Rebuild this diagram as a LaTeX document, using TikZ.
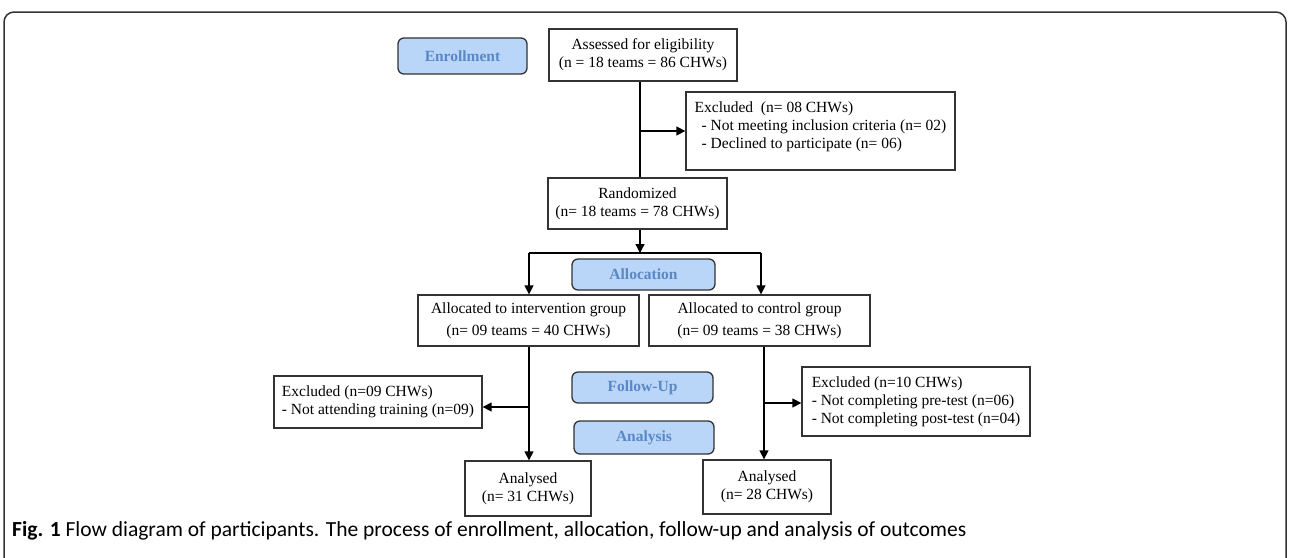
\documentclass[tikz,border=0pt]{standalone}
\usepackage{fontspec}
\setmainfont{Liberation Serif}
\newfontfamily\capfont{Carlito}
\usetikzlibrary{arrows.meta}
\definecolor{phasefill}{HTML}{B9D5F7}
\definecolor{phasetext}{HTML}{5A88C6}
\definecolor{edgegray}{HTML}{333333}
\begin{document}
\begin{tikzpicture}[x=1pt,y=-1pt,
  box/.style={draw=edgegray, line width=1.3pt, fill=white, inner sep=0pt, align=center, font=\fontsize{15.5}{18}\selectfont},
  txt/.style={inner sep=0pt, align=left, font=\fontsize{15.5}{18}\selectfont},
  phase/.style={draw=edgegray, line width=1.3pt, fill=phasefill, rounded corners=6pt, inner sep=0pt, font=\fontsize{15.5}{18}\selectfont\bfseries, text=phasetext},
  conn/.style={line width=1.3pt, draw=black},
  arr/.style={conn, -{Triangle[length=9pt,width=9pt]}}]
\useasboundingbox (0,0) rectangle (1290,557);
\draw[line width=1.5pt, draw=edgegray, rounded corners=10pt] (4,600) -- (4,12) -- (1286,12) -- (1286,600);

% phase labels
\node[phase, minimum width=129pt, minimum height=36pt] (enr) at (462.5,56) {Enrollment};
\node[phase, minimum width=143pt, minimum height=31pt] (alc) at (643.5,274.5) {Allocation};
\node[phase, minimum width=141pt, minimum height=31pt] (fup) at (642.5,387.5) {Follow-Up};
\node[phase, minimum width=140pt, minimum height=33pt] (ana) at (644,437.5) {Analysis};

% boxes
\node[box, minimum width=188pt, minimum height=52pt] (ass) at (643,55) {Assessed for eligibility\\(n = 18 teams = 86 CHWs)};
\node[box, minimum width=269pt, minimum height=78pt] (ex1) at (820.5,131) {};
\node[txt] (ex1t) at (820.5,126.5) {Excluded\ \ (n= 08 CHWs)\\\hspace*{7pt}- Not meeting inclusion criteria (n= 02)\\\hspace*{7pt}- Declined to participate (n= 06)};
\node[box, minimum width=179pt, minimum height=51pt] (rnd) at (637.5,203.5) {Randomized\\(n= 18 teams = 78 CHWs)};
\node[box, minimum width=221pt, minimum height=51pt] (int) at (528.5,320.5) {Allocated to intervention group\\[4pt](n= 09 teams = 40 CHWs)};
\node[box, minimum width=221pt, minimum height=51pt] (ctl) at (759.5,320.5) {Allocated to control group\\[4pt](n= 09 teams = 38 CHWs)};
\node[box, minimum width=208pt, minimum height=52pt] (exl) at (378,402) {\begin{tabular}{@{}l@{}}Excluded (n=09 CHWs)\\- Not attending training (n=09)\end{tabular}};
\node[box, minimum width=228pt, minimum height=69pt] (exr) at (916,401.5) {\begin{tabular}{@{}l@{}}Excluded (n=10 CHWs)\\- Not completing pre-test (n=06)\\- Not completing post-test (n=04)\end{tabular}};
\node[box, minimum width=126pt, minimum height=55pt] (anl) at (528,488.5) {Analysed\\(n= 31 CHWs)};
\node[box, minimum width=128pt, minimum height=54pt] (anr) at (767,487) {Analysed\\(n= 28 CHWs)};

% connectors
\coordinate (c1) at (640,131);
\coordinate (split) at (640,253);
\coordinate (sl) at (529,253);
\coordinate (sr) at (761,253);
\coordinate (vl) at (529,407);
\coordinate (vr) at (764,403);
\draw[conn] (ass.south -| c1) -- (rnd.north -| c1);
\draw[arr] (c1) -- (ex1.west |- c1);
\draw[arr] (rnd.south -| split) -- (split);
\draw[conn] (sl) -- (sr);
\draw[arr] (sl) -- (int.north -| sl);
\draw[arr] (sr) -- (ctl.north -| sr);
\draw[arr] (int.south -| vl) -- (anl.north -| vl);
\draw[arr] (vl) -- (exl.east |- vl);
\draw[arr] (ctl.south -| vr) -- (anr.north -| vr);
\draw[arr] (vr) -- (exr.west |- vr);

% caption
\node[inner sep=0pt, anchor=base west, font=\capfont\fontsize{21.5}{24}\selectfont] (cap) at (12,536) {\textbf{Fig. 1} Flow diagram of participants. The process of enrollment, allocation, follow-up and analysis of outcomes};
\end{tikzpicture}
\end{document}
